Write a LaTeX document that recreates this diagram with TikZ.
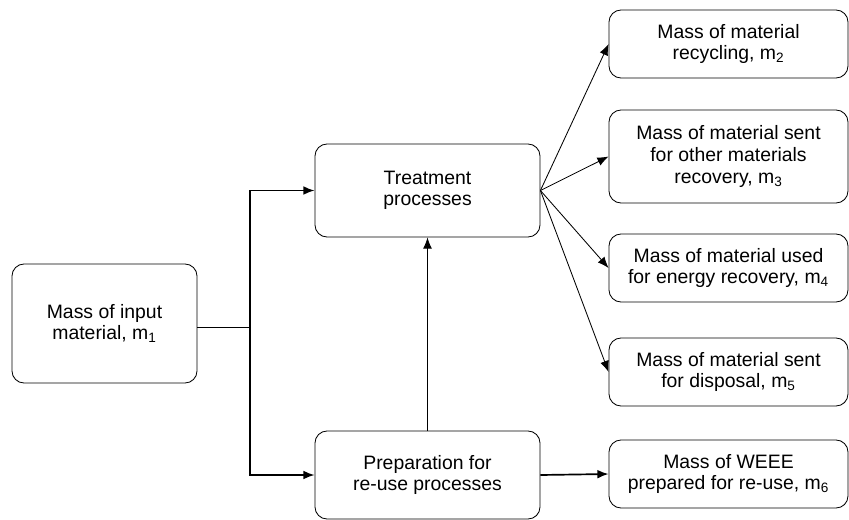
\documentclass[tikz,border=0pt]{standalone}
\usepackage{fontspec}
\setmainfont{Liberation Sans}
\usepackage{tikz}
\usetikzlibrary{arrows.meta, positioning, calc}

\tikzset{
    procbox/.style={draw, line width=0.6pt, rounded corners=0.3cm, align=center, font=\fontsize{13.8}{15.4}\selectfont},
    flowarrow/.style={line width=0.6pt, -{Latex[length=2.8mm, width=2.2mm]}},
}

\begin{document}
\begin{tikzpicture}
    \useasboundingbox (0,0) rectangle (21.225,12.975);

    % Input (Left)
    \node[procbox, minimum width=4.625cm, minimum height=2.975cm] (input) at (2.6125, 4.8875) {Mass of input\\material, m\textsubscript{1}};

    % Processes (Middle)
    \node[procbox, minimum width=5.625cm, minimum height=2.325cm] (treat) at (10.6875, 8.2125) {Treatment\\processes};
    \node[procbox, minimum width=5.625cm, minimum height=2.2cm] (prep) at (10.6875, 1.1) {Preparation for\\re-use processes};

    % Outputs (Right)
    \node[procbox, minimum width=5.975cm, minimum height=1.7cm] (recyc) at (18.2125, 11.875) {Mass of material\\recycling, m\textsubscript{2}};
    \node[procbox, minimum width=5.975cm, minimum height=2.325cm] (other) at (18.2125, 9.0625) {Mass of material sent\\for other materials\\recovery, m\textsubscript{3}};
    \node[procbox, minimum width=5.975cm, minimum height=1.7cm] (energy) at (18.2125, 6.275) {Mass of material used\\for energy recovery, m\textsubscript{4}};
    \node[procbox, minimum width=5.975cm, minimum height=1.7cm] (disp) at (18.2125, 3.675) {Mass of material sent\\for disposal, m\textsubscript{5}};
    \node[procbox, minimum width=5.975cm, minimum height=1.7cm] (reuse) at (18.2125, 1.125) {Mass of WEEE\\prepared for re-use, m\textsubscript{6}};

    % Split of the input
    \coordinate (split) at (6.25, 4.8);
    \draw[line width=0.6pt] (input.east |- split) -- (split);
    \draw[flowarrow, line width=1.2pt] (split) |- (treat.west);
    \draw[flowarrow, line width=1.2pt] (split) |- (prep.west);

    % Flows between boxes
    \draw[flowarrow] (prep.north) -- (treat.south);
    \draw[flowarrow, line width=1.2pt] (prep.east) -- (reuse.west);
    \draw[flowarrow] (treat.east) -- (recyc.west);
    \draw[flowarrow] (treat.east) -- (other.west);
    \draw[flowarrow] (treat.east) -- (energy.west);
    \draw[flowarrow] (treat.east) -- (disp.west);
\end{tikzpicture}
\end{document}
